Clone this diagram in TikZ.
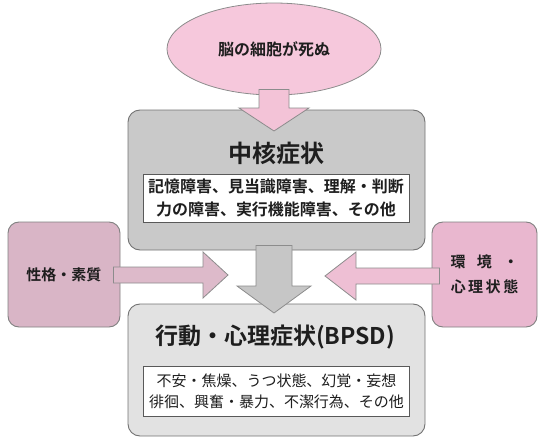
\documentclass[tikz,border=0pt]{standalone}
\usepackage{fontspec}
\setmainfont{Noto Sans CJK JP}[BoldFont={Noto Sans CJK JP Bold}]
\usetikzlibrary{calc}
\usetikzlibrary{shapes.geometric}
\usetikzlibrary{positioning}

\definecolor{inkgray}{HTML}{1E1E1E}
\definecolor{brainpink}{HTML}{F6C8DC}
\definecolor{arrowpink}{HTML}{F3C3D7}
\definecolor{coregray}{HTML}{C9C9C9}
\definecolor{bpsdgray}{HTML}{E2E2E2}
\definecolor{midgray}{HTML}{C6C6C6}
\definecolor{leftpink}{HTML}{D9B5C6}
\definecolor{leftarrow}{HTML}{DDBACA}
\definecolor{rightpink}{HTML}{E9B7CF}
\definecolor{rightarrow}{HTML}{EEBFD4}

\newcommand{\downblock}[6]{%
  \draw[#1] let \p1=(#2), \p2=(#3) in
    ({\x2-#4},\y1) -- ({\x2-#4},{\y2+#6}) -- ({\x2-#5},{\y2+#6}) -- (\x2,\y2)
    -- ({\x2+#5},{\y2+#6}) -- ({\x2+#4},{\y2+#6}) -- ({\x2+#4},\y1) -- cycle;}
\newcommand{\sideblock}[6]{%
  \draw[#1] let \p1=(#2), \p2=(#3) in
    (\x1,{\y2+#4}) -- ({\x2-(#6)},{\y2+#4}) -- ({\x2-(#6)},{\y2+#5}) -- (\x2,\y2)
    -- ({\x2-(#6)},{\y2-#5}) -- ({\x2-(#6)},{\y2-#4}) -- (\x1,{\y2-#4}) -- cycle;}

\begin{document}
\begin{tikzpicture}[x=1pt,y=-1pt,
    brainell/.style={ellipse, draw=black!45, fill=brainpink, line width=0.8pt,
      minimum width=214pt, minimum height=92pt, inner sep=0pt, text=inkgray,
      font=\bfseries\fontsize{16}{19}\selectfont},
    graybox/.style={rectangle, rounded corners=12pt, draw=black!55, line width=0.9pt,
      minimum width=297pt, inner sep=0pt},
    headtext/.style={text=inkgray, inner sep=0pt},
    listbox/.style={rectangle, draw=black!65, fill=white, line width=0.7pt,
      minimum width=266pt, inner sep=0pt, align=center, text=inkgray},
    sidebox/.style={rectangle, rounded corners=11pt, draw=black!50, line width=0.9pt,
      minimum height=105pt, inner sep=0pt, align=center, text=inkgray,
      font=\bfseries\fontsize{15}{25}\selectfont},
    blockarrow/.style={draw=black!45, line width=0.8pt}]
  \useasboundingbox (0,0) rectangle (539,439);

  \node[brainell] (brain) at (274,49) {脳の細胞が死ぬ};
  \node[graybox, fill=coregray, minimum height=140pt] (core) at (276.5,180) {};
  \node[headtext, font=\bfseries\fontsize{24}{28}\selectfont] (coretitle) at (276.5,153) {中核症状};
  \node[listbox, minimum height=48pt, font=\bfseries\fontsize{16}{23}\selectfont]
    (corelist) at (276,198) {記憶障害、見当識障害、理解・判断\\力の障害、実行機能障害、その他};

  \node[graybox, fill=bpsdgray, minimum height=132pt] (bpsd) at (276.5,370) {};
  \node[headtext, font=\bfseries\fontsize{23}{27}\selectfont] (bpsdtitle) at (275,337) {行動・心理症状(BPSD)};
  \node[listbox, minimum height=50pt, font=\fontsize{15}{21}\selectfont]
    (bpsdlist) at (276.5,391) {不安・焦燥、うつ状態、幻覚・妄想\\徘徊、興奮・暴力、不潔行為、その他};

  \node[sidebox, fill=leftpink, minimum width=112pt] (trait) at (64,274.5) {性格・素質};
  \node[sidebox, fill=rightpink, minimum width=105pt] (envir) at (484.5,274.5)
    {\makebox[68pt][s]{環\hfill 境\hfill ・}\\心\,理\,状\,態};

  \coordinate (toptip) at (274,131);
  \coordinate (midtip) at (274,313);
  \coordinate (lefttip) at (228,275);
  \coordinate (righttip) at (325,276);

  \downblock{blockarrow, fill=arrowpink}{[yshift=6pt]brain.south}{toptip}{15pt}{35pt}{23pt}
  \downblock{blockarrow, fill=midgray}{[yshift=5pt]core.south}{midtip}{18pt}{37pt}{27pt}
  \sideblock{blockarrow, fill=leftarrow}{[xshift=-7pt]trait.east}{lefttip}{8pt}{23pt}{25pt}
  \sideblock{blockarrow, fill=rightarrow}{[xshift=8pt]envir.west}{righttip}{8pt}{24pt}{-31pt}
\end{tikzpicture}
\end{document}
